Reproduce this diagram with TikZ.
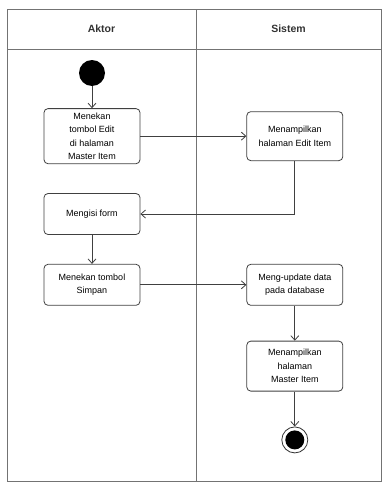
\documentclass[tikz,border=0pt]{standalone}
\usepackage{fontspec}
\setmainfont{Liberation Sans}
\usepackage{tikz}
\usetikzlibrary{arrows.meta,positioning}
\tikzstyle{lane}=[line width=0.9pt, draw=black!55]
\tikzstyle{lanetitle}=[font=\bfseries\fontsize{10.5}{12}\selectfont, text=black!80]
\tikzstyle{activity}=[rectangle, rounded corners=4pt, line width=0.8pt, draw=black!75, minimum width=96pt, minimum height=41pt, inner sep=4pt]
\tikzstyle{initial}=[circle, fill=black, minimum size=26pt, inner sep=0pt]
\tikzstyle{final}=[circle, line width=0.8pt, draw=black!80, minimum size=26pt, inner sep=0pt, path picture={\fill[black] (path picture bounding box.center) circle (9.5pt);}]
\tikzstyle{connect}=[-{Straight Barb[length=4.5pt,width=8pt]}, line width=0.8pt, draw=black!75]

\begin{document}
\begin{tikzpicture}[x=1pt, y=-1pt, font=\fontsize{9}{13.5}\selectfont, every text node part/.style={align=center}]
  \useasboundingbox (0,0) rectangle (382,482);
  % swimlanes
  \draw[lane] (7,9) rectangle (381,481);
  \draw[lane] (7,49) -- (381,49);
  \draw[lane] (196,9) -- (196,481);
  \node[lanetitle] (aktor) at (101.5,29) {Aktor};
  \node[lanetitle] (sistem) at (288.5,29) {Sistem};

  \node[initial] (start) at (92,73) {};
  \node[activity] (tekanEdit) [below=22pt of start] {Menekan\\tombol Edit\\di halaman\\Master Item};
  \node[activity, minimum height=49pt] (tampilEdit) [right=106pt of tekanEdit] {Menampilkan\\halaman Edit Item};
  \node[activity] (isiForm) [below=29pt of tekanEdit] {Mengisi form};
  \node[activity] (tekanSimpan) [below=29pt of isiForm] {Menekan tombol\\Simpan};
  \node[activity] (updateData) [right=106pt of tekanSimpan] {Meng-update data\\pada database};
  \node[activity, minimum height=50pt] (tampilMaster) [below=35pt of updateData] {Menampilkan\\halaman\\Master Item};
  \node[final] (end) [below=35pt of tampilMaster] {};

  \draw[connect] (start) -- (tekanEdit);
  \draw[connect] (tekanEdit) -- (tampilEdit);
  \draw[connect] (tampilEdit.south) |- (isiForm.east);
  \draw[connect] (isiForm) -- (tekanSimpan);
  \draw[connect] (tekanSimpan) -- (updateData);
  \draw[connect] (updateData) -- (tampilMaster);
  \draw[connect] (tampilMaster) -- (end);
\end{tikzpicture}
\end{document}
